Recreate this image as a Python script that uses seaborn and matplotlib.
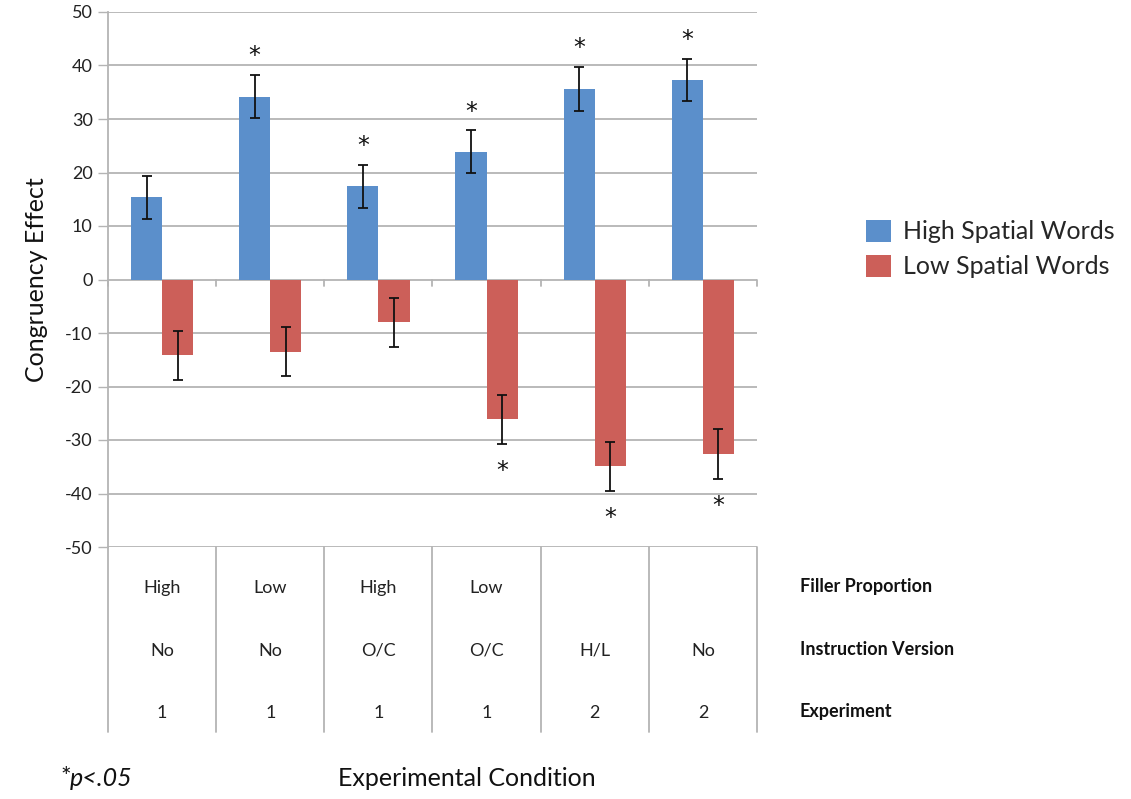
import matplotlib
matplotlib.use("Agg")
import matplotlib.pyplot as plt
import seaborn as sns
import pandas as pd
import numpy as np
from matplotlib.patches import Patch
from matplotlib.transforms import blended_transform_factory

# ---- data ----
conditions = ["C1", "C2", "C3", "C4", "C5", "C6"]
filler = ["High", "Low", "High", "Low", "", ""]
instruction = ["No", "No", "O/C", "O/C", "H/L", "No"]
experiment = ["1", "1", "1", "1", "2", "2"]
row_labels = ["Filler Proportion", "Instruction Version", "Experiment"]
series = ["High Spatial Words", "Low Spatial Words"]
high_vals = [15.4, 34.2, 17.4, 23.9, 35.6, 37.3]
low_vals = [-14.2, -13.5, -8.0, -26.1, -34.9, -32.6]
high_err = [4.0, 4.0, 4.0, 4.0, 4.1, 4.0]
low_err = [4.6, 4.6, 4.6, 4.6, 4.6, 4.6]
high_sig = [False, True, True, True, True, True]
low_sig = [False, False, False, True, True, True]
yticks = [50, 40, 30, 20, 10, 0, -10, -20, -30, -40, -50]

blue = "#5b8fcb"
red = "#cc5f59"
grid_c = "#b4b4b4"

sns.set_style("white")
plt.rcParams["font.family"] = ["Lato", "DejaVu Sans"]

df = pd.DataFrame({
    "cond": conditions * 2,
    "value": high_vals + low_vals,
    "series": [series[0]] * 6 + [series[1]] * 6,
})

fig = plt.figure(figsize=(11.31, 7.99), dpi=100)
ax = fig.add_axes([108 / 1131, 1 - 547 / 799, 649 / 1131, 535 / 799])

sns.barplot(data=df, x="cond", y="value", hue="series", order=conditions,
            hue_order=series, palette=[blue, red], width=0.575, saturation=1,
            errorbar=None, legend=False, ax=ax, linewidth=0)

ax.set_ylim(-50, 50)
ax.set_xlim(-0.5, 5.5)
ax.set_yticks(yticks)
ax.set_yticklabels([str(t) for t in yticks], fontsize=13, color="#222222")
ax.set_xticks([])
ax.set_xlabel("")
ax.set_ylabel("Congruency Effect", fontsize=18, color="#111111", labelpad=12)
ax.tick_params(axis="y", length=7, width=1, color=grid_c, pad=4, direction="out", left=True)
for t in yticks:
    ax.axhline(t, color=grid_c, lw=1.3, zorder=0)
for s in ["top", "right", "bottom"]:
    ax.spines[s].set_visible(False)
ax.spines["left"].set_color(grid_c)
ax.spines["left"].set_linewidth(1.3)

# zero line ticks at category boundaries
for b in np.arange(-0.5, 6.0, 1.0):
    ax.plot([b, b], [0, -1.2], color=grid_c, lw=1.3, clip_on=False, zorder=1)

# error bars and stars
for cont, vals, errs, sigs, sign, off in [
    (ax.containers[0], high_vals, high_err, high_sig, 1, 3.5),
    (ax.containers[1], low_vals, low_err, low_sig, -1, 5.1),
]:
    xs = [p.get_x() + p.get_width() / 2 for p in cont.patches]
    ax.errorbar(xs, vals, yerr=errs, fmt="none", ecolor="#111111", elinewidth=1.3,
                capsize=3.5, capthick=1.3, zorder=5)
    for x, v, e, s in zip(xs, vals, errs, sigs):
        if s:
            y = v + sign * (e + off)
            ax.text(x, y, "*", ha="center", va="center", fontsize=17, color="#111111",
                    family="DejaVu Sans")

# table below axis
tb = blended_transform_factory(ax.transData, ax.transAxes)
for b in np.arange(-0.5, 6.0, 1.0):
    ax.plot([b, b], [0, -0.346], color=grid_c, lw=1.3, transform=tb, clip_on=False)
row_y = [-0.0766, -0.194, -0.310]
for ry, row in zip(row_y, [filler, instruction, experiment]):
    for i, lab in enumerate(row):
        ax.text(i, ry, lab, transform=tb, ha="center", va="center", fontsize=13,
                color="#222222")
ta = ax.transAxes
for ry, lab in zip(row_y, row_labels):
    ax.text(1.066, ry + 0.002, lab, transform=ta, ha="left", va="center", fontsize=13,
            fontweight="bold", color="#111111")

# legend
handles = [Patch(facecolor=blue, edgecolor="none"), Patch(facecolor=red, edgecolor="none")]
fig.legend(handles, series, loc="center left", bbox_to_anchor=(843 / 1131, 1 - 249 / 799),
           frameon=False, fontsize=18, handlelength=1.0, handleheight=1.0,
           handletextpad=0.5, labelspacing=0.45)

# footer
fig.text(60 / 1131, 1 - 778 / 799, "*", fontsize=18, ha="left", va="center", color="#111111")
fig.text(70 / 1131, 1 - 778 / 799, "p<.05", fontsize=18, style="italic", ha="left",
         va="center", color="#111111")
fig.text(467 / 1131, 1 - 778 / 799, "Experimental Condition", fontsize=18, ha="center",
         va="center", color="#111111")

fig.savefig("out.png", dpi=100, facecolor="white")
